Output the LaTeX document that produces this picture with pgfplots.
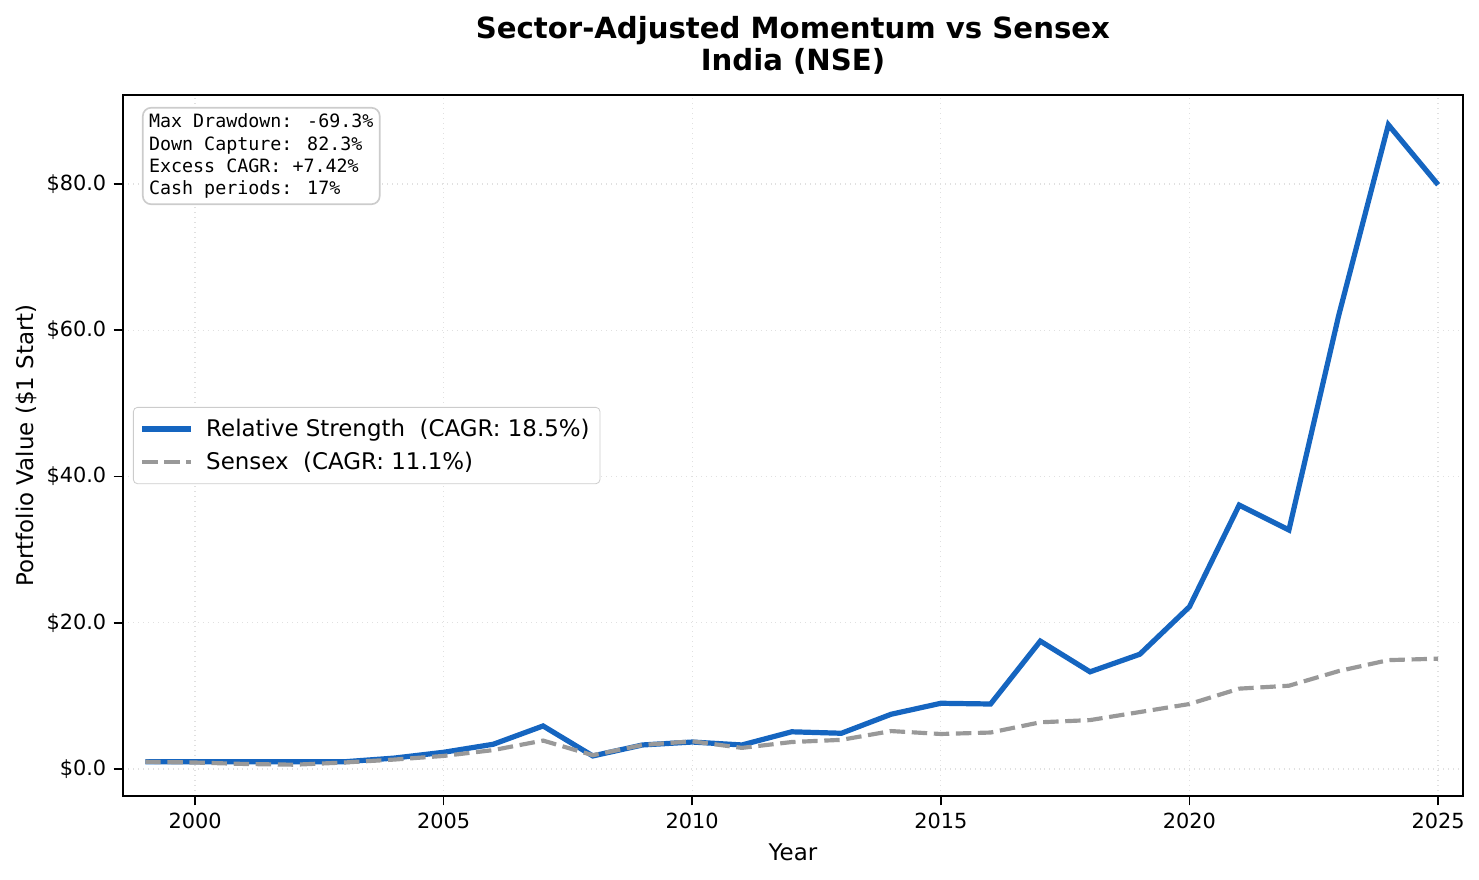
\documentclass[border=0pt]{standalone}
\usepackage{pgfplots}
\pgfplotsset{compat=1.18}
\usepackage{fontspec}
\setmainfont{DejaVu Sans}
\newfontfamily\monofont{DejaVu Sans Mono}
\definecolor{rsblue}{HTML}{1565C0}
\definecolor{sxgray}{HTML}{999999}
\definecolor{gridgray}{HTML}{E0E0E0}
\definecolor{boxgray}{HTML}{CCCCCC}

\pgfplotstableread{
year rs sensex
1999 1.0 1.0
2000 1.0 0.9
2001 1.0 0.7
2002 1.0 0.6
2003 1.0 0.9
2004 1.5 1.3
2005 2.3 1.8
2006 3.4 2.6
2007 5.9 3.9
2008 1.8 1.9
2009 3.3 3.3
2010 3.7 3.8
2011 3.3 2.9
2012 5.1 3.7
2013 4.9 4.0
2014 7.5 5.2
2015 9.0 4.8
2016 8.9 5.0
2017 17.5 6.4
2018 13.3 6.7
2019 15.7 7.8
2020 22.2 8.9
2021 36.1 11.0
2022 32.7 11.4
2023 62.0 13.4
2024 88.1 14.9
2025 79.9 15.1
}\perf

\begin{document}
\begin{tikzpicture}
\begin{axis}[
  scale only axis,
  width=643.2bp, height=336.5bp,
  xmin=1998.55, xmax=2025.5,
  ymin=-3.69, ymax=92.17,
  xtick={2000,2005,2010,2015,2020,2025},
  ytick={0,20,40,60,80},
  yticklabels={\$0.0,\$20.0,\$40.0,\$60.0,\$80.0},
  /pgf/number format/1000 sep={},
  /pgf/number format/assume math mode=true,
  tick label style={font=\fontsize{10bp}{12bp}\selectfont},
  tick align=outside,
  tick pos=left,
  major tick length=4.5bp,
  every tick/.style={black, line width=0.8bp},
  axis line style={line width=0.8bp},
  grid=major,
  major grid style={gridgray, dotted, line width=0.6bp},
  xlabel={Year},
  ylabel={Portfolio Value (\$1 Start)},
  label style={font=\fontsize{11bp}{13bp}\selectfont},
  xlabel style={yshift=-0.5bp},
  ylabel style={yshift=-2bp},
  title={\textbf{Sector-Adjusted Momentum vs Sensex}\\\textbf{India (NSE)}},
  title style={font=\fontsize{14bp}{15bp}\selectfont, align=center, yshift=0.6bp},
  legend style={at={(0.0075,0.5)}, anchor=west, draw=boxgray, rounded corners=2bp,
    font=\fontsize{11bp}{17.5bp}\selectfont, inner xsep=3bp, inner ysep=3.5bp,
    row sep=2bp},
  legend cell align=left,
  legend image post style={xscale=1.38},
  legend style={/tikz/every odd column/.append style={column sep=4bp}},
]
\addplot[rsblue, line width=2.5bp] table[x=year, y=rs] {\perf};
\addlegendentry{Relative Strength\ \ (CAGR: 18.5\%)}
\addplot[sxgray, line width=2bp, dash pattern=on 7.4bp off 3.2bp] table[x=year, y=sensex] {\perf};
\addlegendentry{Sensex\ \ (CAGR: 11.1\%)}
\node[anchor=north west, draw=boxgray, fill=white, rounded corners=4bp, line width=0.8bp,
  align=left, inner sep=3bp, font=\monofont\fontsize{8.8bp}{10.6bp}\selectfont]
  at (rel axis cs:0.0142,0.983)
  {Max Drawdown: -69.3\%\\Down Capture: 82.3\%\\Excess CAGR: +7.42\%\\Cash periods: 17\%};
\end{axis}
\path (current axis.south west) ++(-59bp,-39.8bp) coordinate (bbl);
\path (current axis.north east) ++(7.7bp,45.6bp) coordinate (btr);
\path (bbl) rectangle (btr);
\end{tikzpicture}
\end{document}
